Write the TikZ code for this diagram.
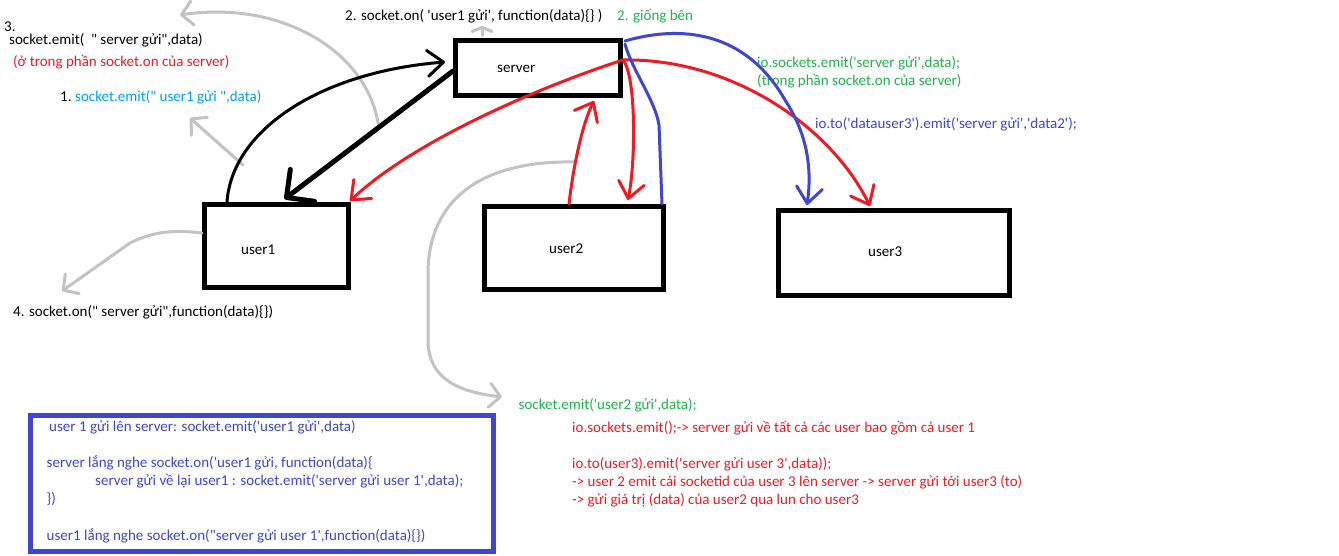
\documentclass[tikz,border=0pt]{standalone}
\usepackage{fontspec}
\newfontfamily\calfont{Carlito}
\usetikzlibrary{arrows.meta,calc}
\definecolor{pred}{HTML}{ED1C24}
\definecolor{pgreen}{HTML}{22B14C}
\definecolor{plblue}{HTML}{00A2E8}
\definecolor{pindigo}{HTML}{3F48CC}
\definecolor{pgray}{HTML}{C3C3C3}
\newcommand\myfs{\calfont\fontsize{15pt}{18pt}\selectfont}
\begin{document}
\begin{tikzpicture}[x=1pt,y=-1pt,
  box/.style={draw=black, line width=5pt, inner sep=0pt},
  txt/.style={anchor=base west, inner sep=0pt, font=\myfs},
  con/.style={line width=3pt, line cap=round, line join=round},
  tip/.style={-{Straight Barb[length=16pt,width=26pt,round]}},
  bigtip/.style={-{Straight Barb[length=20pt,width=40pt,round]}},
  graytip/.style={-{Straight Barb[length=11pt,width=24pt,round]}},
  gcon/.style={con, draw=pgray, graytip}]
\useasboundingbox (0,0) rectangle (1339,555);
\fill[white] (0,0) rectangle (1339,555);

% boxes
\node[box, minimum width=165pt, minimum height=55pt] (server) at (538,68) {};
\node[box, minimum width=144pt, minimum height=83pt] (user1) at (276.5,246) {};
\node[box, minimum width=179pt, minimum height=83pt] (user2) at (574,248) {};
\node[box, minimum width=231pt, minimum height=85pt] (user3) at (894,253) {};
\node[draw=pindigo, line width=5pt, inner sep=0pt, minimum width=463pt, minimum height=136pt] (codebox) at (261.5,483) {};

% box labels
\node[txt] (lserver) at (497,72.3) {server};
\node[txt] (luser1) at (241,254) {user1};
\node[txt] (luser2) at (549,253) {user2};
\node[txt] (luser3) at (868,256) {user3};

% texts
\node[txt] (t3num) at (4,31.5) {3.};
\node[txt] (t3) at (9,44) {socket.emit(\ \ "\ server gửi",data)};
\node[txt, text=pred] (t3note) at (13,66) {(ở trong phần socket.on của server)};
\node[txt] (t1num) at (60,101) {1.};
\node[txt, text=plblue] (t1) at (75,101) {socket.emit(" user1 gửi ",data)};
\node[txt] (t2) at (345,20.7) {2. socket.on( 'user1 gửi', function(data)\{\} )};
\node[txt, text=pgreen] (t2same) at (617,20.7) {2. giống bên};
\node[txt, text=pgreen] (tio) at (757,67) {io.sockets.emit('server gửi',data);};
\node[txt, text=pgreen] (tionote) at (757,85) {(trong phần socket.on của server)};
\node[txt, text=pindigo] (tioto) at (815,128) {io.to('datauser3').emit('server gửi','data2');};
\node[txt] (t4) at (13,316) {4. socket.on(" server gửi",function(data)\{\})};
\node[txt, text=pgreen] (tu2) at (518.5,409) {socket.emit('user2 gửi',data);};
\node[txt, text=pred] (r1) at (572,432.5) {io.sockets.emit();-> server gửi về tất cả các user bao gồm cả user 1};
\node[txt, text=pred] (r2) at (572,468.5) {io.to(user3).emit('server gửi user 3',data));};
\node[txt, text=pred] (r3) at (572,486) {-> user 2 emit cái socketid của user 3 lên server -> server gửi tới user3 (to)};
\node[txt, text=pred] (r4) at (572,504) {-> gửi giá trị (data) của user2 qua lun cho user3};
\node[txt, text=pindigo] (b1) at (49,431.7) {user 1 gửi lên server: socket.emit('user1 gửi',data)};
\node[txt, text=pindigo] (b2) at (46.5,467.3) {server lắng nghe socket.on('user1 gửi, function(data)\{};
\node[txt, text=pindigo] (b3) at (95,485.7) {server gửi về lại user1 : socket.emit('server gửi user 1',data);};
\node[txt, text=pindigo] (b4) at (46.5,503.3) {\})};
\node[txt, text=pindigo] (b5) at (46.5,540) {user1 lắng nghe socket.on("server gửi user 1',function(data)\{\})};

% anchor coordinates
\coordinate (sE1) at ($(server.north east)+(0,22)$);
\coordinate (sE2) at ($(server.north east)+(2,3)$);
\coordinate (sE3) at ($(server.north east)+(2,6)$);
\coordinate (sW1) at ($(server.west)+(-8,-6)$);
\coordinate (sW2) at ($(server.west)+(0,3)$);
\coordinate (sS1) at ($(server.south)+(56,3)$);
\coordinate (sN1) at ($(server.north)+(-56,-2.5)$);
\coordinate (u1N1) at ($(user1.north west)+(25,0)$);
\coordinate (u1N2) at ($(user1.north)+(8,-3)$);
\coordinate (u1NE) at ($(user1.north east)+(-1,-1)$);
\coordinate (u1W) at ($(user1.west)+(0,-13)$);
\coordinate (u2N1) at ($(user2.north west)+(87,0)$);
\coordinate (u2N2) at ($(user2.north east)+(-38,-4)$);
\coordinate (u2N3) at ($(user2.north east)+(-4,0)$);
\coordinate (u3N1) at ($(user3.north west)+(31,-3)$);
\coordinate (u3N2) at ($(user3.north west)+(94,-2)$);
\coordinate (g1s) at ($(sW2)!0.44!(u1N2)$);
\coordinate (g1e) at (180,15);
\coordinate (g2s) at (243,165);
\coordinate (g2e) at (190,118);
\coordinate (g3e) at (62,291);
\coordinate (g4e) at (482,26);
\coordinate (g5s) at (576,162);
\coordinate (g5e) at (502,397);

% gray arrows
\draw[gcon] (g1s) .. controls (368,50) and (280,0) .. (g1e);
\draw[gcon] (g2s) -- (g2e);
\draw[gcon] (u1W) .. controls (170,229) and (150,233) .. (130,243) -- (g3e);
\draw[con, draw=pgray, -{Straight Barb[length=4pt,width=20pt,round]}] (sN1) -- (g4e);
\draw[gcon] (g5s) .. controls (480,160) and (430,200) .. (428,270) -- (428,340) .. controls (428,385) and (470,393) .. (g5e);

% black
\draw[con, tip] (u1N1) .. controls (232,130) and (320,72) .. (sW1);
\draw[con, line width=5pt, bigtip] (sW2) -- (u1N2);

% red
\draw[con, draw=pred, tip] (sE1) .. controls (560,80) and (420,135) .. (u1NE);
\draw[con, draw=pred, tip] (u2N1) .. controls (574,160) and (584,120) .. (sS1);
\draw[con, draw=pred, tip] (sE1) .. controls (636,75) and (636,160) .. (u2N2);
\draw[con, draw=pred, tip] (sE1) .. controls (730,58) and (830,125) .. (u3N2);

% blue
\draw[con, draw=pindigo, tip] (sE2) .. controls (680,25) and (745,30) .. (785,100) .. controls (808,135) and (812,170) .. (u3N1);
\draw[con, draw=pindigo] (sE3) .. controls (632,70) and (655,100) .. (659,125) -- (u2N3);
\end{tikzpicture}
\end{document}
